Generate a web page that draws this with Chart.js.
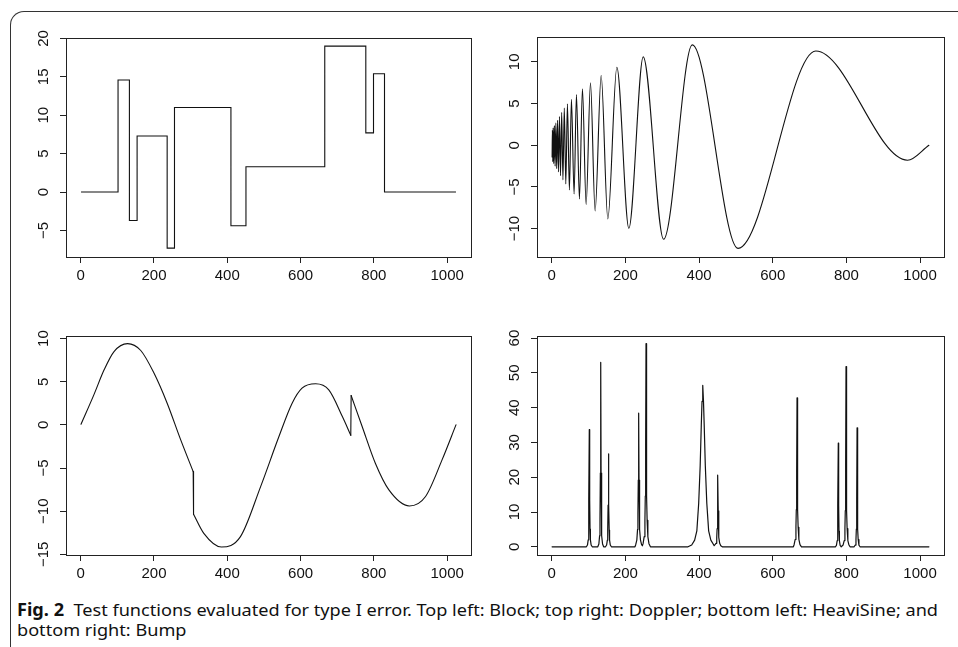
<!DOCTYPE html>
<html>
<head>
<meta charset="utf-8">
<script src="https://cdn.jsdelivr.net/npm/chart.js@4.4.0/dist/chart.umd.min.js"></script>
<style>
html, body { margin: 0; padding: 0; background: #fff; }
#wrap { position: relative; width: 958px; height: 647px; overflow: hidden; }
#frame { position: absolute; left: 10px; top: 11px; width: 1000px; height: 700px;
  border-top: 1px solid #333; border-left: 1px solid #333; border-top-left-radius: 14px; }
canvas { position: absolute; }
#cap { position: absolute; left: 17px; top: 600px; font-family: "Noto Sans", "Open Sans", sans-serif;
  font-size: 17px; line-height: 20px; color: #111; white-space: nowrap; transform-origin: 0 0; }
#cap b { font-weight: 700; }
</style>
</head>
<body>
<div id="wrap">
  <div id="frame"></div>
  <canvas id="c1" width="479" height="290" style="left:0;top:0;width:479px;height:290px"></canvas>
  <canvas id="c2" width="479" height="290" style="left:479px;top:0;width:479px;height:290px"></canvas>
  <canvas id="c3" width="479" height="290" style="left:0;top:290px;width:479px;height:290px"></canvas>
  <canvas id="c4" width="479" height="290" style="left:479px;top:290px;width:479px;height:290px"></canvas>
  <div id="cap"><span id="l1"><b>Fig. 2</b>&nbsp; Test functions evaluated for type I error. Top left: Block; top right: Doppler; bottom left: HeaviSine; and</span><br>bottom right: Bump</div>
</div>
<script>
// x axis ticks shared by all four panels
var xTicks = [0, 200, 400, 600, 800, 1000];

// Block (top left): level starting at each x
var blockX = [1, 102, 133, 154, 236, 256, 410, 451, 666, 778, 799, 829, 1024];
var blockY = [0, 14.6, -3.7, 7.3, -7.3, 11.0, -4.4, 3.3, 19.0, 7.7, 15.4, 0, 0];
var blockTicks = [-5, 0, 5, 10, 15, 20];

// Doppler (top right): turning points
var dopX = [1, 1.8, 2.8, 3.9, 5.4, 7.2, 9.2, 11.2, 13.4, 15.8, 18.2, 20.9, 23.8, 27.0, 30.4, 34.1, 38.2,
  42.6, 48, 53.5, 60.7, 67.1, 75.2, 83.4, 93.4, 105.2, 117.8, 134.2, 152.3, 176.8, 209.4, 248.4,
  303.7, 381.6, 505.8, 717, 966, 1024];
var dopY = [-1.4, 1.8, -1.95, 2.1, -2.2, 2.35, -2.5, 2.65, -2.8, 3.0, -3.2, 3.45, -3.65, 3.95, -4.15, 4.45, -4.65,
  4.96, -5.36, 5.52, -5.84, 6.08, -6.44, 6.76, -7.12, 7.48, -7.88, 8.36, -8.84, 9.36, -9.96, 10.6,
  -11.28, 12.04, -12.36, 11.3, -1.8, 0];
var dopTicks = [-10, -5, 0, 5, 10];

// HeaviSine (bottom left): three smooth pieces split at the jumps
var hsX1 = [1, 36, 64, 91, 128, 164, 200, 236, 273, 307];
var hsY1 = [0.08, 3.48, 6.38, 8.5, 9.42, 8.62, 6.0, 2.51, -1.74, -5.41];
var hsX2 = [308, 336, 384, 436, 491, 541, 577, 604, 641, 677, 714, 737];
var hsY2 = [-10.35, -12.57, -14.15, -12.95, -7.15, -1.35, 2.51, 4.25, 4.76, 4.06, 0.97, -1.2];
var hsX3 = [738, 768, 804, 841, 897, 941, 986, 1024];
var hsY3 = [3.4, -0.19, -4.45, -7.54, -9.4, -8.3, -4.06, 0];
var hsTicks = [-15, -10, -5, 0, 5, 10];

// Bump (bottom right)
var bumpX = [1,
  94, 97, 99, 100, 101, 102, 103, 104, 105, 107, 110,
  125, 128, 130, 131, 132, 133, 134, 135, 136, 138, 141,
  146, 149, 151, 152, 153, 154, 155, 156, 157, 159, 162,
  226, 228, 231, 233, 234, 235, 236, 237, 238, 239, 241, 244,
  246, 248, 251, 253, 254, 255, 256, 257, 258, 259, 261, 264, 268,
  370, 380, 388, 394, 399, 403, 406, 408, 410, 412, 414, 417, 421, 426, 432, 440,
  441, 443, 446, 448, 449, 450, 451, 452, 453, 454, 456, 459, 463,
  656, 658, 661, 663, 664, 665, 666, 667, 668, 669, 671, 674, 678,
  770, 773, 775, 776, 777, 778, 779, 780, 781, 783, 786,
  788, 791, 794, 796, 797, 798, 799, 800, 801, 802, 804, 807, 810,
  821, 824, 826, 827, 828, 829, 830, 831, 832, 834, 837,
  1024];
var bumpY = [0,
  0, 0.5, 2.0, 5.1, 13.5, 33.7, 13.5, 5.1, 2.0, 0.5, 0,
  0, 0.8, 3.2, 8.0, 21.2, 53.0, 21.2, 8.0, 3.2, 0.8, 0,
  0, 0.5, 1.9, 4.8, 12.0, 26.7, 12.0, 4.8, 1.9, 0.5, 0,
  0, 0.6, 1.9, 5.0, 9.6, 19.2, 38.4, 19.2, 9.6, 5.0, 1.9, 0.6,
  0.3, 0.9, 2.9, 7.6, 14.6, 29.2, 58.4, 29.2, 14.6, 7.6, 2.9, 0.9, 0,
  0, 0.5, 1.9, 4.6, 12.5, 23.2, 34.8, 41.8, 46.4, 41.8, 34.8, 23.2, 12.5, 4.6, 1.9, 0.5,
  0.3, 0.3, 1.0, 2.7, 5.2, 10.3, 20.6, 10.3, 5.2, 2.7, 1.0, 0.3, 0,
  0, 0.6, 2.1, 5.6, 10.7, 21.4, 42.8, 21.4, 10.7, 5.6, 2.1, 0.6, 0,
  0, 0.4, 1.8, 4.5, 11.9, 29.8, 11.9, 4.5, 1.8, 0.4, 0,
  0, 0.5, 1.8, 5.2, 10.4, 23.3, 51.8, 23.3, 10.4, 5.2, 1.8, 0.5, 0,
  0, 0.5, 2.1, 5.1, 13.7, 34.2, 13.7, 5.1, 2.1, 0.5, 0,
  0];
var bumpTicks = [0, 10, 20, 30, 40, 50, 60];

function pts(xs, ys) {
  return xs.map(function (x, i) { return { x: x, y: ys[i] }; });
}
function fmt(v) { return String(v).replace('-', '\u2212'); }

var lineCol = '#111';
var axisCol = '#222';
var tickFamily = '"Liberation Sans", Arial, sans-serif';

var boxPlugin = {
  id: 'rbox',
  afterDraw: function (chart) {
    var a = chart.chartArea, ctx = chart.ctx, ys = chart.scales.y;
    ctx.save();
    ctx.strokeStyle = axisCol;
    ctx.lineWidth = 1;
    ctx.strokeRect(Math.round(a.left) + 0.5, Math.round(a.top) + 0.5,
      Math.round(a.right - a.left), Math.round(a.bottom - a.top));
    ctx.fillStyle = '#111';
    ctx.font = '15px ' + tickFamily;
    ctx.textAlign = 'center';
    ctx.textBaseline = 'middle';
    chart.options.yTickList.forEach(function (v) {
      ctx.save();
      ctx.translate(a.left - 22, ys.getPixelForValue(v));
      ctx.rotate(-Math.PI / 2);
      ctx.fillText(fmt(v), 0, 0);
      ctx.restore();
    });
    ctx.restore();
  }
};

function makePanel(id, datasets, yMin, yMax, yTicks, area) {
  var cv = document.getElementById(id);
  var W = cv.width, H = cv.height;
  return new Chart(cv, {
    type: 'scatter',
    data: { datasets: datasets },
    options: {
      responsive: false,
      animation: false,
      yTickList: yTicks,
      layout: { padding: { left: 0, top: area.top, right: W - area.right, bottom: 0 } },
      plugins: { legend: { display: false }, tooltip: { enabled: false } },
      elements: { point: { radius: 0 } },
      scales: {
        x: {
          type: 'linear', min: -40, max: 1065,
          afterBuildTicks: function (s) { s.ticks = xTicks.map(function (v) { return { value: v }; }); },
          afterFit: function (s) { s.height = H - area.bottom; },
          grid: { drawOnChartArea: false, drawTicks: true, tickLength: 6, color: axisCol, lineWidth: 1 },
          border: { display: false },
          ticks: { color: '#111', padding: 4, maxRotation: 0, autoSkip: false,
            callback: function (v) { return String(v); },
            font: { family: tickFamily, size: 15 } }
        },
        y: {
          type: 'linear', min: yMin, max: yMax,
          afterBuildTicks: function (s) { s.ticks = yTicks.map(function (v) { return { value: v }; }); },
          afterFit: function (s) { s.width = area.left; },
          grid: { drawOnChartArea: false, drawTicks: true, tickLength: 6, color: axisCol, lineWidth: 1 },
          border: { display: false },
          ticks: { display: false }
        }
      }
    },
    plugins: [boxPlugin]
  });
}

function line(data, extra) {
  var d = { data: data, showLine: true, borderColor: lineCol, borderWidth: 1.1, pointRadius: 0, fill: false,
    borderJoinStyle: 'round', borderCapStyle: 'round' };
  for (var k in extra) d[k] = extra[k];
  return d;
}

// top left: Block
makePanel('c1', [line(pts(blockX, blockY), { stepped: true, borderJoinStyle: 'miter', borderCapStyle: 'butt' })],
  -8.46, 20.06, blockTicks, { left: 66, top: 38, right: 471, bottom: 257 });

// top right: Doppler
makePanel('c2', [line(pts(dopX, dopY), { cubicInterpolationMode: 'monotone' })],
  -13.4, 12.98, dopTicks, { left: 58, top: 37, right: 465, bottom: 257 });

// bottom left: HeaviSine
var hs1 = pts(hsX1, hsY1), hs2 = pts(hsX2, hsY2), hs3 = pts(hsX3, hsY3);
makePanel('c3', [
  line(hs1, { cubicInterpolationMode: 'monotone' }),
  line([hs1[hs1.length - 1], hs2[0]], {}),
  line(hs2, { cubicInterpolationMode: 'monotone' }),
  line([hs2[hs2.length - 1], hs3[0]], {}),
  line(hs3, { cubicInterpolationMode: 'monotone' })
], -15.08, 10.3, hsTicks, { left: 66, top: 46, right: 471, bottom: 265 });

// bottom right: Bump
makePanel('c4', [line(pts(bumpX, bumpY), { tension: 0, borderWidth: 1.2 })],
  -2.36, 60.6, bumpTicks, { left: 58, top: 46, right: 465, bottom: 265 });

// stretch caption so the first line spans the same width as in the figure
var cap = document.getElementById('cap');
var w1 = document.getElementById('l1').getBoundingClientRect().width;
cap.style.transform = 'scaleX(' + (921 / w1) + ')';
</script>
</body>
</html>
